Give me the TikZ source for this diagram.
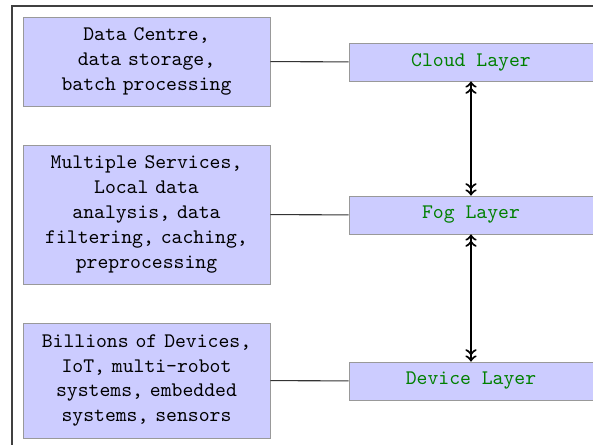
\documentclass[tikz,border=0pt]{standalone}
\usetikzlibrary{arrows}
\begin{document}
\begin{tikzpicture}[x=0.483pt,y=-0.483pt,
  descbox/.style={draw=black!40, fill=blue!20, align=center, font=\ttfamily, inner sep=0pt, minimum width=247*0.483pt, text width=235*0.483pt},
  layerbox/.style={draw=black!40, fill=blue!20, align=center, font=\ttfamily, text=green!50!black, inner sep=0pt, minimum width=244*0.483pt, minimum height=38*0.483pt},
  link/.style={draw=black!80, line width=0.5pt},
  updown/.style={<<->>, line width=1pt, black}]
\useasboundingbox (0,0) rectangle (593,445);
\draw[draw=black!75, line width=0.6pt] (12,460) -- (12,6) -- (600,6);
\node[descbox, minimum height=89*0.483pt] (dc) at (146.5,61.5) {Data Centre,\\data storage,\\batch processing};
\node[descbox, minimum height=139*0.483pt] (ms) at (146.5,214.5) {Multiple Services,\\Local data\\analysis, data\\filtering, caching,\\preprocessing};
\node[descbox, minimum height=115*0.483pt] (bd) at (146.5,380.5) {Billions of Devices,\\IoT, multi-robot\\systems, embedded\\systems, sensors};
\node[layerbox] (cloud) at (471,62) {Cloud Layer};
\node[layerbox] (fog) at (471,215) {Fog Layer};
\node[layerbox] (dev) at (471,381) {Device Layer};
\draw[link] (dc) -- (cloud);
\draw[link] (ms) -- (fog);
\draw[link] (bd) -- (dev);
\draw[updown] (cloud) -- (fog);
\draw[updown] (fog) -- (dev);
\end{tikzpicture}
\end{document}
